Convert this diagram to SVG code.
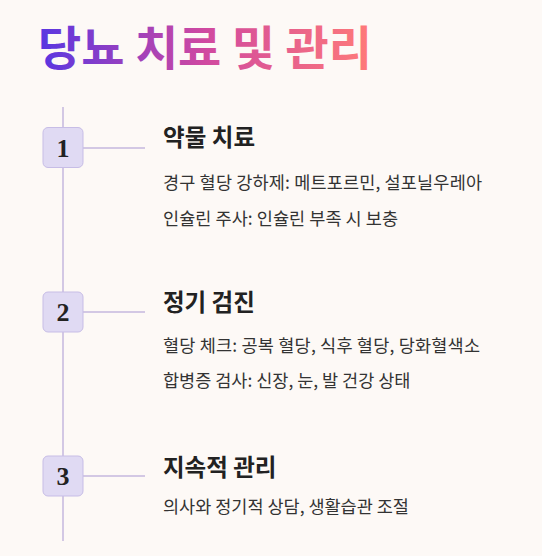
<svg xmlns="http://www.w3.org/2000/svg" width="542" height="556" viewBox="0 0 542 556">
<defs>
<linearGradient id="tg" x1="38" y1="0" x2="372" y2="0" gradientUnits="userSpaceOnUse">
<stop offset="0" stop-color="#5836e2"/>
<stop offset="0.5" stop-color="#d049a0"/>
<stop offset="1" stop-color="#ff7a78"/>
</linearGradient>
<style>
.h{font-family:"Noto Sans CJK KR","Noto Sans",sans-serif;font-weight:700;font-size:23.5px;fill:#222}
.b{font-family:"Noto Sans CJK KR","Noto Sans",sans-serif;font-size:17.5px;fill:#333}
.n{font-family:"Liberation Serif","DejaVu Serif",serif;font-weight:700;font-size:26px;fill:#222;text-anchor:middle}
.box{fill:#e0daf3;stroke:#c7bde6;stroke-width:1}
.ln{stroke:#c4b7de;stroke-width:1.5;fill:none}
</style>
</defs>
<rect width="542" height="556" fill="#fdf9f6"/>
<text x="38" y="65" font-family="'Noto Sans CJK KR',sans-serif" font-weight="700" font-size="47" fill="url(#tg)" textLength="334" lengthAdjust="spacing">당뇨 치료 및 관리</text>
<g id="connectors">
<line class="ln" x1="63" y1="107" x2="63" y2="541"/>
<line class="ln" x1="83" y1="148" x2="145" y2="148"/>
<line class="ln" x1="83" y1="312" x2="145" y2="312"/>
<line class="ln" x1="83" y1="476" x2="145" y2="476"/>
</g>
<g id="step1">
<rect class="box" x="43" y="127.5" width="40" height="40" rx="5"/>
<text class="n" x="63" y="156.5">1</text>
<text class="h" x="163" y="146" textLength="92" lengthAdjust="spacing">약물 치료</text>
<text class="b" x="163" y="189" textLength="319" lengthAdjust="spacing">경구 혈당 강하제: 메트포르민, 설포닐우레아</text>
<text class="b" x="163" y="225" textLength="235" lengthAdjust="spacing">인슐린 주사: 인슐린 부족 시 보충</text>
</g>
<g id="step2">
<rect class="box" x="43" y="292" width="40" height="40" rx="5"/>
<text class="n" x="63" y="321">2</text>
<text class="h" x="163" y="311">정기 검진</text>
<text class="b" x="163" y="352" textLength="317" lengthAdjust="spacing">혈당 체크: 공복 혈당, 식후 혈당, 당화혈색소</text>
<text class="b" x="163" y="387">합병증 검사: 신장, 눈, 발 건강 상태</text>
</g>
<g id="step3">
<rect class="box" x="43" y="456" width="40" height="40" rx="5"/>
<text class="n" x="63" y="485">3</text>
<text class="h" x="163" y="476">지속적 관리</text>
<text class="b" x="163" y="513">의사와 정기적 상담, 생활습관 조절</text>
</g>
</svg>
